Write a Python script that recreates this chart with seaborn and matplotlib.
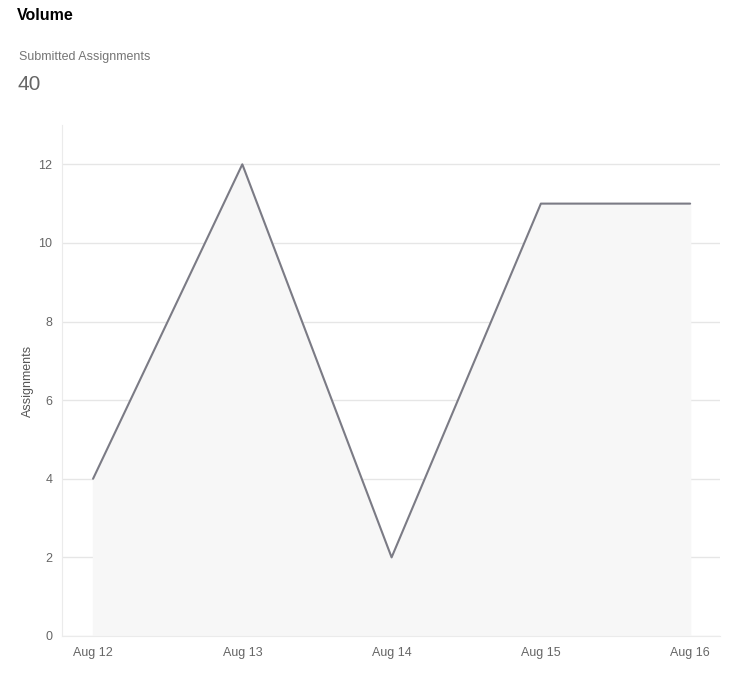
import matplotlib
matplotlib.use('Agg')
import matplotlib.pyplot as plt
import seaborn as sns
import pandas as pd

# data
days = ['Aug 12', 'Aug 13', 'Aug 14', 'Aug 15', 'Aug 16']
assignments = [4, 12, 2, 11, 11]
total_submitted = 40

sns.set_style('white')
plt.rcParams['font.family'] = ['Liberation Sans', 'DejaVu Sans']

df = pd.DataFrame({'idx': range(len(days)), 'day': days, 'n': assignments})

fig = plt.figure(figsize=(7.46, 6.87), dpi=100)
ax = fig.add_axes([62/746, 51/687, (720-62)/746, (636-125)/687])

ax.fill_between(df['idx'], df['n'], 0, color='#f7f7f7', zorder=1)
sns.lineplot(data=df, x='idx', y='n', ax=ax, color='#7b7b85', linewidth=1.5, zorder=3)

ax.set_xlim(-0.208, 4.2)
ax.set_ylim(0, 13)
ax.set_yticks([0, 2, 4, 6, 8, 10, 12])
ax.set_xticks(df['idx'])
ax.set_xticklabels(days)
ax.yaxis.grid(True, color='#e6e6e6', linewidth=1, zorder=0)
ax.set_axisbelow(True)
ax.tick_params(axis='both', length=0, labelsize=9, labelcolor='#666666')
ax.tick_params(axis='x', pad=8)
ax.tick_params(axis='y', pad=7)
for s in ['top', 'right']:
    ax.spines[s].set_visible(False)
ax.spines['left'].set_color('#ebebeb')
ax.spines['bottom'].set_color('#ebebeb')
ax.set_xlabel('')
ax.set_ylabel('Assignments', fontsize=9, color='#555555')
ax.yaxis.set_label_coords((34 - 62) / 658, 0.5)

fig.text(17/746, 1 - 16/687, 'Volume', fontsize=11.5, fontweight='bold', color='black', va='center')
fig.text(19/746, 1 - 57/687, 'Submitted Assignments', fontsize=9, color='#757575', va='center')
fig.text(18/746, 1 - 84/687, str(total_submitted), fontsize=15, color='#666666', va='center')

fig.savefig('out.png', dpi=100)
